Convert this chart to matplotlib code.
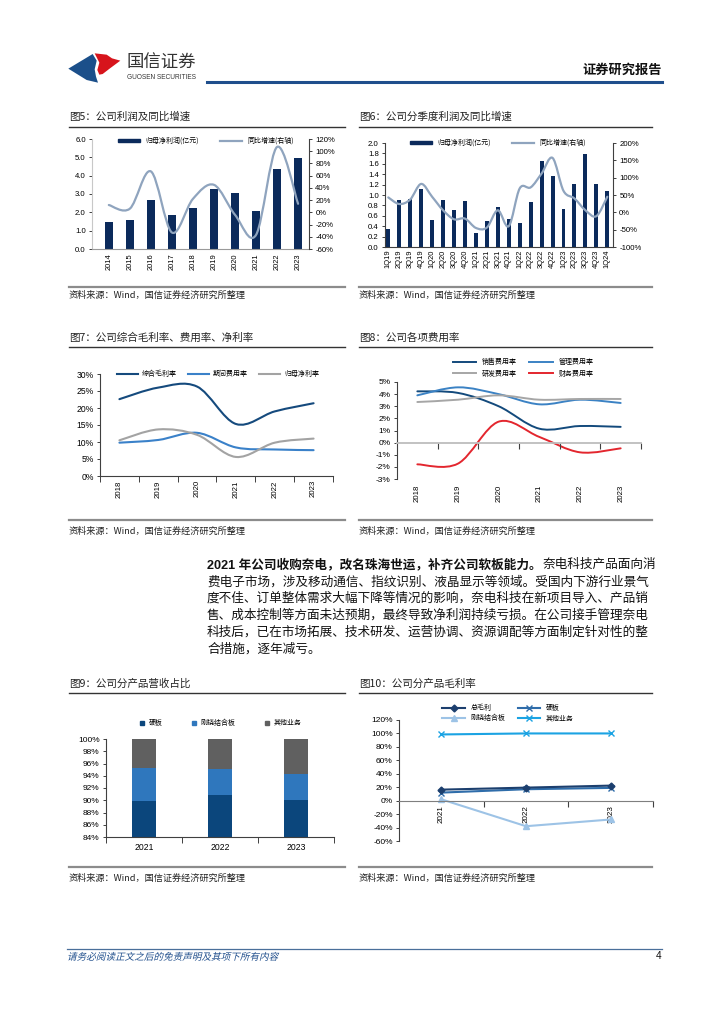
import matplotlib
matplotlib.use('Agg')
import matplotlib.pyplot as plt
import numpy as np
from matplotlib.lines import Line2D
from matplotlib.patches import Polygon, PathPatch, Patch
from matplotlib.path import Path
from matplotlib.textpath import TextPath
from matplotlib.font_manager import FontProperties
from matplotlib.transforms import Affine2D, IdentityTransform

plt.rcParams['font.family'] = ['Liberation Sans', 'Noto Sans CJK SC']
plt.rcParams['axes.unicode_minus'] = False

# ---- data ----
years5 = ['2014', '2015', '2016', '2017', '2018', '2019', '2020', '2021', '2022', '2023']
profit5 = [1.45, 1.59, 2.65, 1.83, 2.25, 3.29, 3.05, 2.10, 4.35, 4.99]
growth5 = [12, 6, 67, -33, 22, 45, -4, -37, 107, 14]

quarters6 = ['1Q19', '2Q19', '3Q19', '4Q19', '1Q20', '2Q20', '3Q20', '4Q20', '1Q21', '2Q21',
             '3Q21', '4Q21', '1Q22', '2Q22', '3Q22', '4Q22', '1Q23', '2Q23', '3Q23', '4Q23', '1Q24']
profit6 = [0.35, 0.90, 0.92, 1.11, 0.52, 0.90, 0.71, 0.88, 0.27, 0.50,
           0.77, 0.54, 0.47, 0.86, 1.65, 1.36, 0.74, 1.21, 1.78, 1.21, 1.08]
growth6 = [43, 24, 37, 82, 45, 6, -20, -18, -45, -44,
           6, -40, 69, 72, 112, 157, 62, 40, 6, -11, 45]

years7 = ['2018', '2019', '2020', '2021', '2022', '2023']
gross7 = [22.6, 26.0, 26.3, 15.3, 19.0, 21.4]
expense7 = [9.8, 10.6, 12.7, 8.4, 7.8, 7.6]
net7 = [10.5, 13.7, 12.1, 5.6, 9.8, 11.0]

years8 = ['2018', '2019', '2020', '2021', '2022', '2023']
sales8 = [4.23, 4.10, 3.00, 1.15, 1.37, 1.30]
admin8 = [3.90, 4.56, 4.00, 3.16, 3.54, 3.27]
rnd8 = [3.35, 3.54, 3.90, 3.54, 3.60, 3.60]
fin8 = [-1.79, -1.73, 1.73, 0.47, -0.80, -0.47]

years9 = ['2021', '2022', '2023']
rigid9 = [89.8, 90.9, 90.1]
flexrigid9 = [5.5, 4.2, 4.25]
other9 = [4.7, 4.9, 5.65]

years10 = ['2021', '2022', '2023']
total10 = [16.4, 19.4, 22.4]
rigid10 = [12, 17, 19]
flexrigid10 = [2, -38, -28]
other10 = [98.5, 100, 100]

body_bold = '2021 年公司收购奈电，改名珠海世运，补齐公司软板能力。'
body_lines = ['奈电科技产品面向消',
              '费电子市场，涉及移动通信、指纹识别、液晶显示等领域。受国内下游行业景气',
              '度不佳、订单整体需求大幅下降等情况的影响，奈电科技在新项目导入、产品销',
              '售、成本控制等方面未达预期，最终导致净利润持续亏损。在公司接手管理奈电',
              '科技后，已在市场拓展、技术研发、运营协调、资源调配等方面制定针对性的整',
              '合措施，逐年减亏。']

# ---- colours ----
NAVY = '#0B2A5B'
GREYBLUE = '#8FA4BE'
AXC = '#404040'

W, H = 724, 1024
fig = plt.figure(figsize=(W / 100, H / 100), dpi=100)


def add_ax(x0, y0, x1, y1):
    return fig.add_axes([x0 / W, 1 - y1 / H, (x1 - x0) / W, (y1 - y0) / H])


def ftext(x, y, s, **kw):
    return fig.text(x / W, 1 - y / H, s, **kw)


def fline(x0, x1, y, color, lw):
    fig.add_artist(Line2D([x0 / W, x1 / W], [1 - y / H, 1 - y / H], color=color, lw=lw))


def smooth_path(xs, ys):
    # excel style smoothed line as bezier segments
    pts = np.column_stack([xs, ys]).astype(float)
    n = len(pts)
    verts = [pts[0]]
    codes = [Path.MOVETO]
    for i in range(n - 1):
        p0 = pts[i - 1] if i > 0 else pts[i]
        p1 = pts[i]
        p2 = pts[i + 1]
        p3 = pts[i + 2] if i + 2 < n else pts[i + 1]
        verts += [p1 + (p2 - p0) / 6, p2 - (p3 - p1) / 6, p2]
        codes += [Path.CURVE4] * 3
    return Path(verts, codes)


def smooth_line(ax, xs, ys, color, lw):
    ax.add_patch(PathPatch(smooth_path(xs, ys), fill=False, edgecolor=color, lw=lw,
                           capstyle='round', joinstyle='round'))


def panel(x0, x1, ytitle, yline, ybot, ysrc, title):
    ftext(x0, ytitle, title, fontsize=7.6, va='center', ha='left', family='Noto Sans CJK SC', color='#222222')
    fline(x0, x1, yline, '#333333', 1.0)
    fline(x0, x1, ybot, '#8C8C8C', 1.6)
    ftext(x0, ysrc, '资料来源：Wind，国信证券经济研究所整理', fontsize=6.6, va='center', ha='left',
          family='Noto Sans CJK SC', color='#222222')


def fig_legend(ax, handles, labels, cx, cy, ncol, **kw):
    leg = ax.legend(handles, labels, loc='center', bbox_to_anchor=(cx / W, 1 - cy / H),
                    bbox_transform=fig.transFigure, ncol=ncol, frameon=False,
                    prop={'family': 'Noto Sans CJK SC', 'size': 5}, **kw)
    return leg


def style_axes(ax):
    for s in ['top', 'right']:
        ax.spines[s].set_visible(False)
    ax.spines['left'].set_color(AXC)
    ax.spines['bottom'].set_color(AXC)
    ax.spines['left'].set_linewidth(0.8)
    ax.spines['bottom'].set_linewidth(0.8)
    ax.tick_params(axis='y', labelsize=5.6, length=2.5, width=0.7, color=AXC, pad=2)
    ax.set_facecolor('none')


# ---- header ----
def lp(zx, zy):
    return ((60 + zx / 3) / W, 1 - (40 + zy / 3) / H)


blue_logo = [lp(25, 86), lp(98, 42), lp(110, 62), lp(104, 88), lp(108, 110), lp(114, 128), lp(80, 120)]
red_logo = [lp(104, 40), lp(140, 44), lp(156, 55), lp(181, 62), lp(150, 85), lp(128, 102), lp(118, 104),
            lp(112, 90), lp(118, 68)]
fig.add_artist(Polygon(blue_logo, closed=True, facecolor='#1B4F8A', edgecolor='none', transform=fig.transFigure))
fig.add_artist(Polygon(red_logo, closed=True, facecolor='#D7141C', edgecolor='none', transform=fig.transFigure))
ftext(126, 63, '国信证券', fontsize=12.5, va='center', ha='left', family='Noto Sans CJK SC', color='#333333')
ftext(127, 77.5, 'GUOSEN SECURITIES', fontsize=4.7, va='center', ha='left', color='#333333')
fline(207, 662, 82, '#1F4E8C', 2.2)
ftext(662, 70, '证券研究报告', fontsize=9.5, va='center', ha='right', family='Noto Sans CJK SC',
      fontweight='bold', color='#111111')

# ---- panels ----
panel(69, 345, 117, 127, 287, 295, '图5：公司利润及同比增速')
panel(359, 652, 117, 127, 287, 295, '图6：公司分季度利润及同比增速')
panel(69, 345, 338, 347, 520, 531, '图7：公司综合毛利率、费用率、净利率')
panel(359, 652, 338, 347, 520, 531, '图8：公司各项费用率')
panel(69, 345, 684, 693, 867, 878, '图9：公司分产品营收占比')
panel(359, 652, 684, 693, 867, 878, '图10：公司分产品毛利率')

# ---- fig 5 ----
ax5 = add_ax(92, 139, 309, 249)
x5 = np.arange(len(years5))
ax5.bar(x5, profit5, width=0.36, color=NAVY)
ax5.set_xlim(-0.8, 9.52)
ax5.set_ylim(0, 6)
style_axes(ax5)
ax5.spines['left'].set_color('#C8C8C8')
ax5.spines['bottom'].set_color('#9A9A9A')
ax5.set_yticks(np.arange(0, 6.1, 1.0))
ax5.set_yticklabels(['%.1f' % v for v in np.arange(0, 6.1, 1.0)])
ax5.set_xticks(x5)
ax5.set_xticklabels(years5, rotation=90, fontsize=5.4)
ax5.tick_params(axis='x', length=0, pad=3)
ax5r = ax5.twinx()
ax5r.set_ylim(-60, 120)
ax5r.set_yticks(range(-60, 121, 20))
ax5r.set_yticklabels(['%d%%' % v for v in range(-60, 121, 20)])
for s in ['top', 'left', 'bottom']:
    ax5r.spines[s].set_visible(False)
ax5r.spines['right'].set_color(AXC)
ax5r.spines['right'].set_linewidth(0.8)
ax5r.tick_params(axis='y', labelsize=5.6, length=2.5, width=0.7, color=AXC, pad=2)
smooth_line(ax5r, x5, growth5, GREYBLUE, 1.6)
fig_legend(ax5r, [Patch(color=NAVY), Line2D([], [], color=GREYBLUE, lw=1.6)],
           ['归母净利润(亿元)', '同比增速(右轴)'], 206, 141, 2,
           handlelength=3.2, handleheight=0.35, columnspacing=3.0, handletextpad=0.8)

# ---- fig 6 ----
ax6 = add_ax(385, 143, 613, 247)
x6 = np.arange(len(quarters6))
ax6.bar(x6, profit6, width=0.36, color=NAVY)
ax6.set_xlim(-0.3, 20.52)
ax6.set_ylim(0, 2.0)
style_axes(ax6)
ax6.set_yticks(np.arange(0, 2.01, 0.2))
ax6.set_yticklabels(['%.1f' % v for v in np.arange(0, 2.01, 0.2)])
ax6.set_xticks(x6)
ax6.set_xticklabels(quarters6, rotation=90, fontsize=5.4)
ax6.tick_params(axis='x', length=0, pad=2)
ax6r = ax6.twinx()
ax6r.set_ylim(-100, 200)
ax6r.set_yticks(range(-100, 201, 50))
ax6r.set_yticklabels(['%d%%' % v for v in range(-100, 201, 50)])
for s in ['top', 'left', 'bottom']:
    ax6r.spines[s].set_visible(False)
ax6r.spines['right'].set_color(AXC)
ax6r.spines['right'].set_linewidth(0.8)
ax6r.tick_params(axis='y', labelsize=5.6, length=2.5, width=0.7, color=AXC, pad=2)
smooth_line(ax6r, x6, growth6, GREYBLUE, 1.6)
fig_legend(ax6r, [Patch(color=NAVY), Line2D([], [], color=GREYBLUE, lw=1.6)],
           ['归母净利润(亿元)', '同比增速(右轴)'], 498, 143, 2,
           handlelength=3.2, handleheight=0.35, columnspacing=3.0, handletextpad=0.8)

# ---- fig 7 ----
c7 = ['#154A7D', '#3A81C9', '#A3A3A3']
ax7 = add_ax(100, 374, 333, 476)
x7 = np.arange(len(years7))
smooth_line(ax7, x7, gross7, c7[0], 1.5)
smooth_line(ax7, x7, expense7, c7[1], 1.5)
smooth_line(ax7, x7, net7, c7[2], 1.5)
ax7.set_xlim(-0.5, 5.5)
ax7.set_ylim(0, 30)
style_axes(ax7)
ax7.set_yticks(range(0, 31, 5))
ax7.set_yticklabels(['%d%%' % v for v in range(0, 31, 5)])
ax7.tick_params(axis='y', labelsize=6.2)
ax7.set_xticks(x7)
ax7.set_xticklabels(years7, rotation=90, fontsize=5.6)
ax7.set_xticks(np.arange(-0.5, 5.6, 1), minor=True)
ax7.tick_params(axis='x', which='major', length=0, pad=3)
ax7.tick_params(axis='x', which='minor', length=4, width=0.7, color=AXC)
fig_legend(ax7, [Line2D([], [], color=c, lw=1.5) for c in c7],
           ['综合毛利率', '期间费用率', '归母净利率'], 218, 374, 3,
           handlelength=3.0, columnspacing=1.6, handletextpad=0.6)

# ---- fig 8 ----
c8 = ['#134A7C', '#3B82C4', '#A6A6A6', '#E3262E']
ax8 = add_ax(397, 382, 641, 479)
x8 = np.arange(len(years8))
smooth_line(ax8, x8, sales8, c8[0], 1.4)
smooth_line(ax8, x8, admin8, c8[1], 1.4)
smooth_line(ax8, x8, rnd8, c8[2], 1.4)
smooth_line(ax8, x8, fin8, c8[3], 1.4)
ax8.set_xlim(-0.5, 5.5)
ax8.set_ylim(-3, 5)
style_axes(ax8)
ax8.spines['bottom'].set_position(('data', 0))
ax8.spines['bottom'].set_color('#BDBDBD')
ax8.spines['bottom'].set_linewidth(1.3)
ax8.set_yticks(range(-3, 6))
ax8.set_yticklabels(['%d%%' % v for v in range(-3, 6)])
ax8.tick_params(axis='y', labelsize=6.0)
ax8.set_xticks([])
ax8.set_xticks(np.arange(0.5, 5.6, 1), minor=True)
ax8.tick_params(axis='x', which='minor', length=4, width=0.8, color=AXC)
sec8 = ax8.secondary_xaxis('bottom')
sec8.set_xticks(x8)
sec8.set_xticklabels(years8, rotation=90, fontsize=5.6)
sec8.tick_params(length=0, pad=4)
sec8.spines['bottom'].set_visible(False)
fig_legend(ax8, [Line2D([], [], color=c8[i], lw=1.4) for i in [0, 2, 1, 3]],
           ['销售费用率', '研发费用率', '管理费用率', '财务费用率'], 523, 368, 2,
           handlelength=3.4, columnspacing=1.8, handletextpad=0.8, labelspacing=0.55)

# ---- fig 9 ----
c9 = ['#0B467C', '#2F77BD', '#606060']
ax9 = add_ax(106, 739, 334, 837)
x9 = np.arange(len(years9))
ax9.bar(x9, rigid9, width=0.31, color=c9[0])
ax9.bar(x9, flexrigid9, bottom=rigid9, width=0.31, color=c9[1])
ax9.bar(x9, other9, bottom=np.array(rigid9) + np.array(flexrigid9), width=0.31, color=c9[2])
ax9.set_xlim(-0.5, 2.5)
ax9.set_ylim(84, 100)
style_axes(ax9)
ax9.set_yticks(range(84, 101, 2))
ax9.set_yticklabels(['%d%%' % v for v in range(84, 101, 2)])
ax9.tick_params(axis='y', labelsize=6.0)
ax9.set_xticks(x9)
ax9.set_xticklabels(years9, fontsize=6.2)
ax9.set_xticks(np.arange(-0.5, 2.6, 1), minor=True)
ax9.tick_params(axis='x', which='major', length=0, pad=4)
ax9.tick_params(axis='x', which='minor', length=4, width=0.7, color=AXC)
fig_legend(ax9, [Line2D([], [], ls='', marker='s', markersize=3.5, color=c) for c in c9],
           ['硬板', '刚挠结合板', '其他业务'], 220, 723, 3,
           handlelength=1.0, columnspacing=4.0, handletextpad=0.5)

# ---- fig 10 ----
ax10 = add_ax(399, 720, 653, 841)
x10 = np.arange(len(years10))
c10 = ['#1C3F6E', '#2F6DAA', '#9DC3E6', '#1BA3E3']
ax10.plot(x10, other10, color=c10[3], lw=1.5, marker='x', markersize=4.5, mew=1.0)
ax10.plot(x10, flexrigid10, color=c10[2], lw=1.5, marker='^', markersize=4.5)
ax10.plot(x10, rigid10, color=c10[1], lw=1.5, marker='x', markersize=4.5, mew=1.0)
ax10.plot(x10, total10, color=c10[0], lw=1.5, marker='D', markersize=3.5)
ax10.set_xlim(-0.5, 2.5)
ax10.set_ylim(-60, 120)
style_axes(ax10)
ax10.spines['bottom'].set_position(('data', 0))
ax10.spines['bottom'].set_color('#7F7F7F')
ax10.set_yticks(range(-60, 121, 20))
ax10.set_yticklabels(['%d%%' % v for v in range(-60, 121, 20)])
ax10.tick_params(axis='y', labelsize=6.0)
ax10.set_xticks(x10)
ax10.set_xticklabels(years10, rotation=90, fontsize=5.8)
ax10.set_xticks(np.arange(0.5, 2.6, 1), minor=True)
ax10.tick_params(axis='x', which='major', length=0, pad=3)
ax10.tick_params(axis='x', which='minor', length=4, width=0.8, color=AXC)
h10 = [Line2D([], [], color=c10[0], lw=1.5, marker='D', markersize=3.5),
       Line2D([], [], color=c10[2], lw=1.5, marker='^', markersize=4.5),
       Line2D([], [], color=c10[1], lw=1.5, marker='x', markersize=4.5),
       Line2D([], [], color=c10[3], lw=1.5, marker='x', markersize=4.5)]
fig_legend(ax10, h10, ['总毛利', '刚挠结合板', '硬板', '其他业务'], 508, 713, 2,
           handlelength=3.2, columnspacing=1.8, handletextpad=0.8, labelspacing=0.3)

# ---- body text ----
rend = fig.canvas.get_renderer()
tb = ftext(207, 565, body_bold, fontsize=9.1, fontweight='bold', va='center', ha='left', color='#111111')
bb = tb.get_window_extent(renderer=rend)
ftext(bb.x1 + 1, 565, body_lines[0], fontsize=9.1, va='center', ha='left', color='#111111')
for i, line in enumerate(body_lines[1:]):
    ftext(207, 582 + i * 16.8, line, fontsize=9.1, va='center', ha='left', color='#111111')

# ---- footer ----
fline(67, 662, 949, '#4A6F9A', 0.9)
tp = TextPath((0, 0), '请务必阅读正文之后的免责声明及其项下所有内容', size=9.6,
              prop=FontProperties(family='Noto Sans CJK SC'))
tr = Affine2D().skew_deg(14, 0).translate(67, H - 960)
fig.add_artist(PathPatch(tp, transform=tr + IdentityTransform(), facecolor='#1F4E8C', edgecolor='none'))
ftext(661, 956, '4', fontsize=7.2, va='center', ha='right', color='#111111')

fig.savefig('out.png', dpi=100)
